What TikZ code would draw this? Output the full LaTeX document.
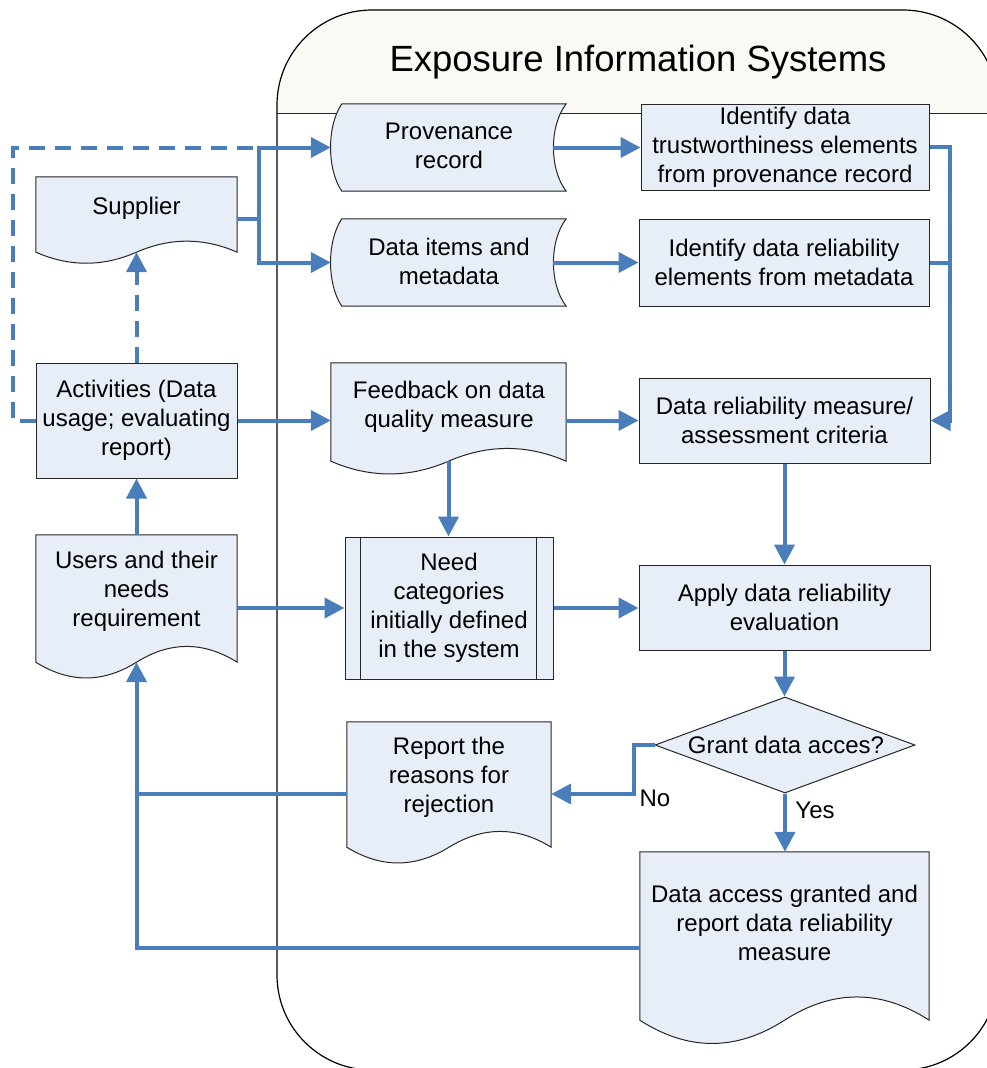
\documentclass[tikz,border=0pt]{standalone}
\usepackage{fontspec}
\setmainfont{Liberation Sans}
\usetikzlibrary{arrows.meta,shapes.geometric,calc}

\definecolor{boxfill}{HTML}{E8EEF7}
\definecolor{flowblue}{HTML}{4A7EBB}
\definecolor{headfill}{HTML}{FAFAF5}
\definecolor{edgegray}{HTML}{262626}

% document symbol: straight top and sides, wavy bottom (#2 = control offset of the wave)
\newcommand\docshape[2]{%
  \path[shapebox] (#1.north west) -- (#1.north east) -- (#1.south east)
    .. controls ($(#1.south east)!1/3!(#1.south)+(0,-#2)$) and ($(#1.south east)!2/3!(#1.south)+(0,-#2)$) .. (#1.south)
    .. controls ($(#1.south)!1/3!(#1.south west)+(0,#2)$) and ($(#1.south)!2/3!(#1.south west)+(0,#2)$) .. (#1.south west)
    -- cycle;}

% stored-data symbol: both sides bowed to the left
\newcommand\storeshape[1]{%
  \path[shapebox] ([xshift=11pt]#1.north west) -- (#1.north east)
    .. controls ($(#1.north east)!0.25!(#1.south east)+(-17,0)$) and ($(#1.north east)!0.75!(#1.south east)+(-17,0)$) .. (#1.south east)
    -- ([xshift=11pt]#1.south west)
    .. controls ($(#1.south west)!0.25!(#1.north west)+(-4,0)$) and ($(#1.south west)!0.75!(#1.north west)+(-4,0)$) .. ([xshift=11pt]#1.north west)
    -- cycle;}

\begin{document}
\begin{tikzpicture}[x=1pt,y=-1pt,
  every node/.style={font=\fontsize{24}{29}\selectfont, align=center, inner sep=0pt, text=black},
  shapebox/.style={draw=edgegray, line width=1pt, fill=boxfill},
  procbox/.style={shapebox, rectangle},
  ghost/.style={rectangle, draw=none, fill=none},
  link/.style={draw=flowblue, line width=4pt},
  flow/.style={link, -{Triangle[length=20pt,width=20pt]}},
  dashlink/.style={link, dash pattern=on 16pt off 10pt},
  dashflow/.style={dashlink, -{Triangle[length=20pt,width=20pt]}}]

\useasboundingbox (0,0) rectangle (987,1068);

% system container with its header band
\begin{scope}
  \clip (277,10) rectangle (1000,113);
  \fill[headfill, rounded corners=95pt] (277,10) rectangle (998,1070);
\end{scope}
\draw[edgegray, line width=1pt] (277,113) -- (998,113);
\draw[black, line width=1.2pt, rounded corners=95pt] (277,10) rectangle (998,1070);
\node[font=\fontsize{36.5}{40}\selectfont] (title) at (638,62) {Exposure Information Systems};

% outside the system
\node[ghost, minimum width=201pt, minimum height=75pt] (sup) at (136.5,214.5) {};
\docshape{sup}{14.7}
\node (sup-t) at (136.5,208) {Supplier};

\node[procbox, minimum width=201pt, minimum height=115pt] (act) at (136.5,420.5)
  {Activities (Data\\usage; evaluating\\report)};

\node[ghost, minimum width=201pt, minimum height=127pt] (usr) at (136.5,598.5) {};
\docshape{usr}{21}
\node (usr-t) at (136.5,591) {Users and their\\needs\\requirement};

% inputs
\node[ghost, minimum width=235pt, minimum height=87pt] (prov) at (448.5,147.5) {};
\storeshape{prov}
\node (prov-t) at (449,146) {Provenance\\record};

\node[ghost, minimum width=235pt, minimum height=87pt] (items) at (448.5,262.5) {};
\storeshape{items}
\node (items-t) at (449,261.5) {Data items and\\metadata};

\node[ghost, minimum width=235pt, minimum height=98pt] (fb) at (448.5,412) {};
\docshape{fb}{17}
\node (fb-t) at (449,406.5) {Feedback on data\\quality measure};

\node[procbox, minimum width=208pt, minimum height=142pt] (need) at (449,608)
  {Need\\categories\\initially defined\\in the system};
\draw[edgegray, line width=1pt] ([xshift=16pt]need.north west) -- ([xshift=16pt]need.south west);
\draw[edgegray, line width=1pt] ([xshift=-17pt]need.north east) -- ([xshift=-17pt]need.south east);

\node[ghost, minimum width=204pt, minimum height=125pt] (rep) at (449,784.5) {};
\docshape{rep}{21}
\node (rep-t) at (449,777) {Report the\\reasons for\\rejection};

% processing steps
\node[procbox, minimum width=288pt, minimum height=86pt] (idt) at (785,147)
  {Identify data\\trustworthiness elements\\from provenance record};
\node[procbox, minimum width=290pt, minimum height=87pt] (idr) at (784,262.5)
  {Identify data reliability\\elements from metadata};
\node[procbox, minimum width=291pt, minimum height=85pt] (drm) at (784.5,420.5)
  {Data reliability measure/\\assessment criteria};
\node[procbox, minimum width=291pt, minimum height=85pt] (app) at (784.5,607.5)
  {Apply data reliability\\evaluation};
\node[shapebox, diamond, minimum width=260pt, minimum height=96pt] (grant) at (785,745) {};
\node (grant-t) at (786,745) {Grant data acces?};

\node[ghost, minimum width=289pt, minimum height=168pt] (acc) at (784.5,936) {};
\docshape{acc}{31}
\node (acc-t) at (784.5,922.5) {Data access granted and\\report data reliability\\measure};

% junction points
\coordinate (jl) at (259,0);
\coordinate (rr) at (950,0);
\coordinate (nob) at (634,794);

% connectors
\draw[flow] ([yshift=-4.5pt]sup.east) -| (jl |- prov.west) -- (prov.west);
\draw[flow] ([yshift=-4.5pt]sup.east) -| (jl |- items.west) -- (items.west);
\draw[dashlink] (act.west) -- ++(-23,0) |- (jl |- prov.west);
\draw[dashflow] (act.north) -- (sup.south);
\draw[flow] (usr.north) -- (act.south);
\draw[flow] (act.east) -- (act.east -| fb.west);
\draw[flow] (usr.east |- need.west) -- (need.west);

\draw[flow] ([xshift=-13pt]prov.east) -- (prov.east -| idt.west);
\draw[flow] ([xshift=-13pt]items.east) -- (items.east -| idr.west);
\draw[flow] (fb.east |- drm.west) -- (drm.west);
\draw[flow] (fb.south) -- (fb.south |- need.north);
\draw[flow] (need.east) -- (need.east -| app.west);

\draw[flow] (idt.east) -| (rr |- drm.east) -- (drm.east);
\draw[link] (idr.east) -- (idr.east -| rr);
\draw[flow] (drm.south) -- (app.north);
\draw[flow] (app.south) -- (app.south |- grant.north);
\draw[flow] (grant.south) -- (grant.south |- acc.north);
\draw[flow] (grant.west) -| (nob) -- (nob -| rep.east);

\draw[flow] (rep.west |- nob) -| (usr.south);
\draw[link] ($(acc.west)+(0,12)$) -| (usr.south |- nob);

% branch labels
\node (no) at (655,798) {No};
\node (yes) at (815,810) {Yes};
\end{tikzpicture}
\end{document}
